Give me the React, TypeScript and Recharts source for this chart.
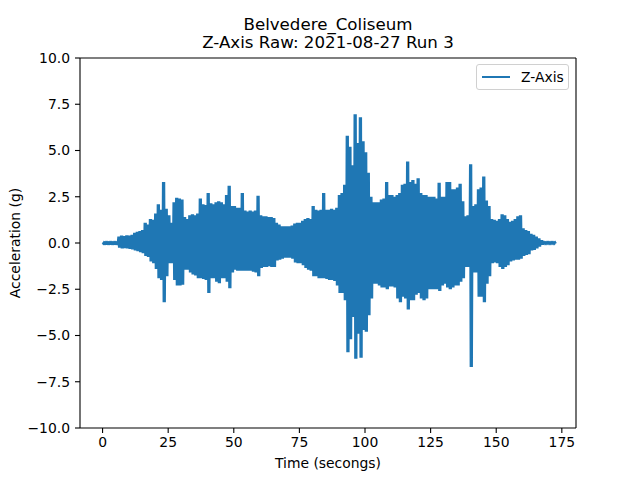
import React from 'react';
import { LineChart, Line, XAxis, YAxis, Legend } from 'recharts';

// Envelope of the Z-axis signal, one value per second (t = 0 .. 172 s)
const upperEnvelope: number[] = [
  0.03, 0.03, 0.03, 0.03, 0.03, 0.03, 0.35, 0.4, 0.38, 0.42,
  0.4, 0.45, 0.55, 0.6, 0.65, 0.7, 1.1, 1.0, 1.3, 1.25,
  1.6, 2.1, 1.8, 3.3, 1.85, 1.5, 1.1, 2.2, 2.45, 2.4,
  2.35, 1.4, 1.3, 1.5, 1.55, 1.5, 1.6, 2.4, 2.1, 2.05,
  2.7, 2.15, 2.1, 2.2, 2.25, 2.2, 2.1, 2.6, 3.1, 2.0,
  2.0, 1.9, 1.9, 2.7, 1.75, 1.7, 1.75, 1.7, 1.75, 2.55,
  1.5, 1.45, 1.45, 1.4, 1.4, 1.35, 1.1, 1.0, 0.9, 0.9,
  0.9, 0.9, 0.95, 1.05, 1.1, 1.1, 1.2, 1.3, 1.35, 1.3,
  2.0, 1.8, 1.75, 1.8, 2.7, 1.8, 1.8, 1.85, 1.8, 1.9,
  2.6, 2.7, 3.15, 5.8, 5.2, 4.2, 6.96, 5.4, 6.8, 5.5,
  4.9, 3.8, 2.5, 2.2, 2.2, 2.2, 2.35, 2.4, 3.3, 2.6,
  2.6, 2.5, 2.6, 2.7, 3.15, 3.2, 4.4, 3.3, 3.4, 3.2,
  3.5, 2.7, 2.6, 2.6, 2.5, 2.5, 2.5, 2.4, 3.25, 2.5,
  2.5, 3.3, 3.3, 2.9, 2.9, 3.0, 3.2, 2.25, 1.45, 1.5,
  4.25, 2.0, 2.1, 2.9, 3.0, 3.6, 2.3, 2.0, 1.3, 1.25,
  1.2, 1.3, 1.55, 1.5, 1.3, 1.15, 1.2, 1.3, 1.45, 1.5,
  0.8, 0.7, 0.65, 0.5, 0.45, 0.35, 0.25, 0.15, 0.03, 0.03,
  0.03, 0.03, 0.03,
];

const lowerEnvelope: number[] = [
  -0.03, -0.03, -0.03, -0.03, -0.03, -0.03, -0.25, -0.3, -0.28, -0.3,
  -0.32, -0.35, -0.4, -0.45, -0.5, -0.55, -0.7, -0.75, -1.0, -1.1,
  -1.4, -1.9, -2.0, -3.2, -1.8, -1.1, -1.1, -2.0, -2.3, -2.3,
  -2.25, -1.45, -1.45, -1.6, -1.7, -1.75, -1.9, -1.9, -1.95, -2.0,
  -2.7, -1.9, -1.9, -2.1, -2.17, -1.9, -1.9, -2.1, -2.44, -1.6,
  -1.45, -1.5, -1.5, -1.5, -1.5, -1.5, -1.5, -1.55, -1.6, -1.8,
  -1.35, -1.3, -1.3, -1.25, -1.3, -1.3, -0.95, -0.9, -0.85, -0.8,
  -0.8, -0.8, -0.85, -1.05, -1.1, -1.1, -1.2, -1.35, -1.45, -1.5,
  -1.8, -1.8, -1.9, -1.9, -1.9, -1.95, -2.0, -2.0, -2.05, -2.3,
  -2.7, -2.7, -3.1, -5.9, -5.2, -4.0, -6.25, -4.9, -6.2, -4.7,
  -4.8, -3.9, -3.0, -2.2, -2.2, -2.3, -2.4, -2.4, -2.5, -2.35,
  -2.35, -2.4, -3.0, -3.2, -2.9, -3.0, -3.6, -3.1, -3.1, -2.8,
  -2.7, -3.0, -3.1, -3.0, -2.5, -2.5, -2.5, -2.5, -2.6, -2.3,
  -2.2, -2.4, -2.5, -2.4, -2.3, -2.3, -2.1, -1.9, -1.3, -1.3,
  -6.7, -1.6, -1.6, -2.9, -2.9, -3.2, -2.2, -1.8, -1.1, -1.05,
  -1.1, -1.3, -1.4, -1.3, -1.2, -1.0, -0.95, -0.9, -0.9, -0.85,
  -0.7, -0.65, -0.6, -0.4, -0.38, -0.3, -0.2, -0.1, -0.03, -0.03,
  -0.03, -0.03, -0.03,
];

const xTicks: number[] = [0, 25, 50, 75, 100, 125, 150, 175];
const yTicks: number[] = [-10, -7.5, -5, -2.5, 0, 2.5, 5, 7.5, 10];
const xDomain: [number, number] = [-8.6, 180.4];
const yDomain: [number, number] = [-10, 10];

const titleLine1 = 'Belvedere_Coliseum';
const titleLine2 = 'Z-Axis Raw: 2021-08-27 Run 3';
const seriesName = 'Z-Axis';
const xLabel = 'Time (secongs)';
const yLabel = 'Acceleration (g)';

// Dense oscillating signal: within each second it swings twice between the
// upper and lower envelope values read for that second.
const data: { t: number; z: number }[] = [];
upperEnvelope.forEach((u, i) => {
  const l = lowerEnvelope[i];
  data.push({ t: i, z: u });
  data.push({ t: i + 0.25, z: l });
  data.push({ t: i + 0.5, z: u });
  data.push({ t: i + 0.75, z: l });
});

const FONT = '"DejaVu Sans", sans-serif';
const BLUE = '#1f77b4';

const fmtY = (v: number) => (v < 0 ? '\u2212' : '') + Math.abs(v).toFixed(1);

const YLabel = (props: any) => {
  const vb = props.viewBox || {};
  const cx = (vb.x || 0) + 15;
  const cy = (vb.y || 0) + (vb.height || 0) / 2;
  return (
    <text
      x={cx}
      y={cy}
      transform={`rotate(-90, ${cx}, ${cy})`}
      textAnchor="middle"
      dominantBaseline="central"
      fontSize={13.9}
      fontFamily={FONT}
      fill="#000"
    >
      {yLabel}
    </text>
  );
};

const XLabel = (props: any) => {
  const vb = props.viewBox || {};
  const cx = (vb.x || 0) + (vb.width || 0) / 2;
  const cy = (vb.y || 0) + 35;
  return (
    <text
      x={cx}
      y={cy}
      textAnchor="middle"
      dominantBaseline="central"
      fontSize={13.9}
      fontFamily={FONT}
      fill="#000"
    >
      {xLabel}
    </text>
  );
};

const LegendBox = () => (
  <div
    style={{
      boxSizing: 'border-box',
      width: 93,
      height: 26,
      border: '1px solid #d0d0d0',
      borderRadius: 3,
      background: 'rgba(255,255,255,0.8)',
      display: 'flex',
      alignItems: 'center',
      fontFamily: FONT,
      fontSize: 13.9,
      color: '#000',
    }}
  >
    <div style={{ width: 28, height: 2, background: BLUE, marginLeft: 5, marginRight: 11 }} />
    <span>{seriesName}</span>
  </div>
);

export default function App() {
  const tickStyle = { fontSize: 13.9, fontFamily: FONT, fill: '#000' };
  return (
    <div style={{ position: 'absolute', left: 0, top: 0, width: 640, height: 480, background: '#fff' }}>
      <div
        style={{
          position: 'absolute',
          left: 0,
          top: 16,
          width: 656,
          textAlign: 'center',
          fontFamily: FONT,
          fontSize: 16.67,
          lineHeight: '18.3px',
          color: '#000',
          whiteSpace: 'pre',
        }}
      >
        {titleLine1}
        {'\n'}
        {titleLine2}
      </div>
      <LineChart
        width={640}
        height={480}
        data={data}
        margin={{ top: 57, right: 63, bottom: 0, left: 0 }}
        style={{ position: 'absolute', left: 0, top: 0 }}
      >
        <XAxis
          dataKey="t"
          type="number"
          domain={xDomain}
          ticks={xTicks}
          allowDataOverflow
          height={52}
          tickSize={5}
          tickMargin={4}
          tick={tickStyle}
          stroke="#000"
          tickLine={{ stroke: '#000', strokeWidth: 1.1 }}
          axisLine={{ stroke: '#000', strokeWidth: 1.1 }}
          interval={0}
          label={<XLabel />}
        />
        <XAxis
          xAxisId="top"
          orientation="top"
          dataKey="t"
          type="number"
          domain={xDomain}
          allowDataOverflow
          height={1}
          tick={false}
          tickLine={false}
          axisLine={{ stroke: '#000', strokeWidth: 1.1 }}
        />
        <YAxis
          type="number"
          domain={yDomain}
          ticks={yTicks}
          allowDataOverflow
          width={80}
          tickSize={5}
          tickMargin={5}
          tick={tickStyle}
          tickFormatter={fmtY}
          tickLine={{ stroke: '#000', strokeWidth: 1.1 }}
          axisLine={{ stroke: '#000', strokeWidth: 1.1 }}
          interval={0}
          label={<YLabel />}
        />
        <YAxis
          yAxisId="right"
          orientation="right"
          type="number"
          domain={yDomain}
          allowDataOverflow
          width={1}
          tick={false}
          tickLine={false}
          axisLine={{ stroke: '#000', strokeWidth: 1.1 }}
        />
        <Legend
          verticalAlign="middle"
          layout="horizontal"
          content={<LegendBox />}
          wrapperStyle={{ position: 'absolute', top: 64, left: 476, width: 93, height: 26, right: 'auto', bottom: 'auto' }}
        />
        <Line
          type="linear"
          dataKey="z"
          name={seriesName}
          stroke={BLUE}
          strokeWidth={2}
          dot={false}
          activeDot={false}
          isAnimationActive={false}
        />
      </LineChart>
    </div>
  );
}
